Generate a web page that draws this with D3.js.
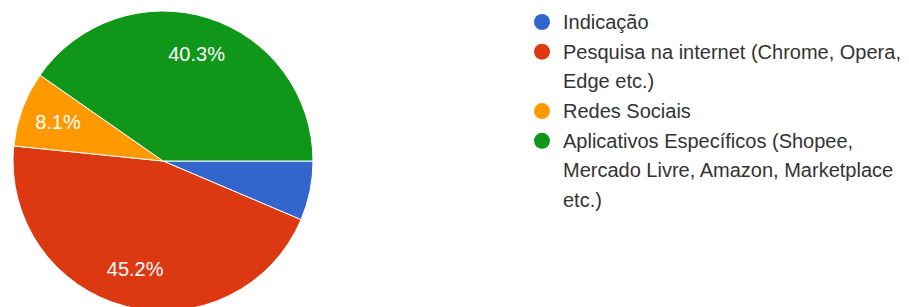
<!DOCTYPE html>
<html>
<head>
<meta charset="utf-8">
<script src="https://cdn.jsdelivr.net/npm/d3@7"></script>
<style>
  body { margin: 0; background: #fff; }
  svg { font-family: "Liberation Sans", Arial, sans-serif; }
</style>
</head>
<body>
<div id="chart"></div>
<script>
// values
var categories = ['Indicação', 'Pesquisa na internet (Chrome, Opera, Edge etc.)', 'Redes Sociais',
  'Aplicativos Específicos (Shopee, Mercado Livre, Amazon, Marketplace etc.)'];
var values = [6.4, 45.2, 8.1, 40.3];
var colors = ['#3366cc', '#dc3912', '#ff9900', '#109618'];
// legend lines as wrapped in the picture
var legendLines = [
  ['Indicação'],
  ['Pesquisa na internet (Chrome, Opera,', 'Edge etc.)'],
  ['Redes Sociais'],
  ['Aplicativos Específicos (Shopee,', 'Mercado Livre, Amazon, Marketplace', 'etc.)']
];

var w = 909, h = 307;
var cx = 163, cy = 161, r = 150;

var svg = d3.select('#chart').append('svg')
  .attr('width', w)
  .attr('height', h);

var data = categories.map(function (c, i) {
  return {name: c, value: values[i], color: colors[i]};
});

var pie = d3.pie()
  .sort(null)
  .value(function (d) { return d.value; })
  .startAngle(Math.PI / 2)
  .endAngle(Math.PI / 2 + 2 * Math.PI);

var arc = d3.arc().innerRadius(0).outerRadius(r);
var labelArc = d3.arc().innerRadius(112).outerRadius(112);

var g = svg.append('g').attr('transform', 'translate(' + cx + ',' + cy + ')');

var arcs = pie(data);

g.selectAll('path.slice')
  .data(arcs)
  .enter().append('path')
  .attr('class', 'slice')
  .attr('d', arc)
  .attr('fill', function (d) { return d.data.color; })
  .attr('stroke', '#fff')
  .attr('stroke-width', 1);

// small slices get no label
g.selectAll('text.pct')
  .data(arcs.filter(function (d) { return d.data.value > 7; }))
  .enter().append('text')
  .attr('class', 'pct')
  .attr('transform', function (d) { return 'translate(' + labelArc.centroid(d) + ')'; })
  .attr('text-anchor', 'middle')
  .attr('dy', '0.35em')
  .attr('fill', '#fff')
  .style('font-size', '20px')
  .text(function (d) { return d.data.value.toFixed(1) + '%'; });

// legend
var lineH = 29.7;
var legend = svg.append('g').attr('transform', 'translate(542,22)');
var row = 0;
legendLines.forEach(function (lines, i) {
  var item = legend.append('g').attr('transform', 'translate(0,' + (row * lineH) + ')');
  item.append('circle')
    .attr('cx', 0)
    .attr('cy', 0)
    .attr('r', 8)
    .attr('fill', colors[i]);
  lines.forEach(function (t, j) {
    item.append('text')
      .attr('x', 21)
      .attr('y', j * lineH)
      .attr('dy', '0.35em')
      .attr('fill', '#333')
      .style('font-size', '20px')
      .text(t);
  });
  row += lines.length;
});
</script>
</body>
</html>
